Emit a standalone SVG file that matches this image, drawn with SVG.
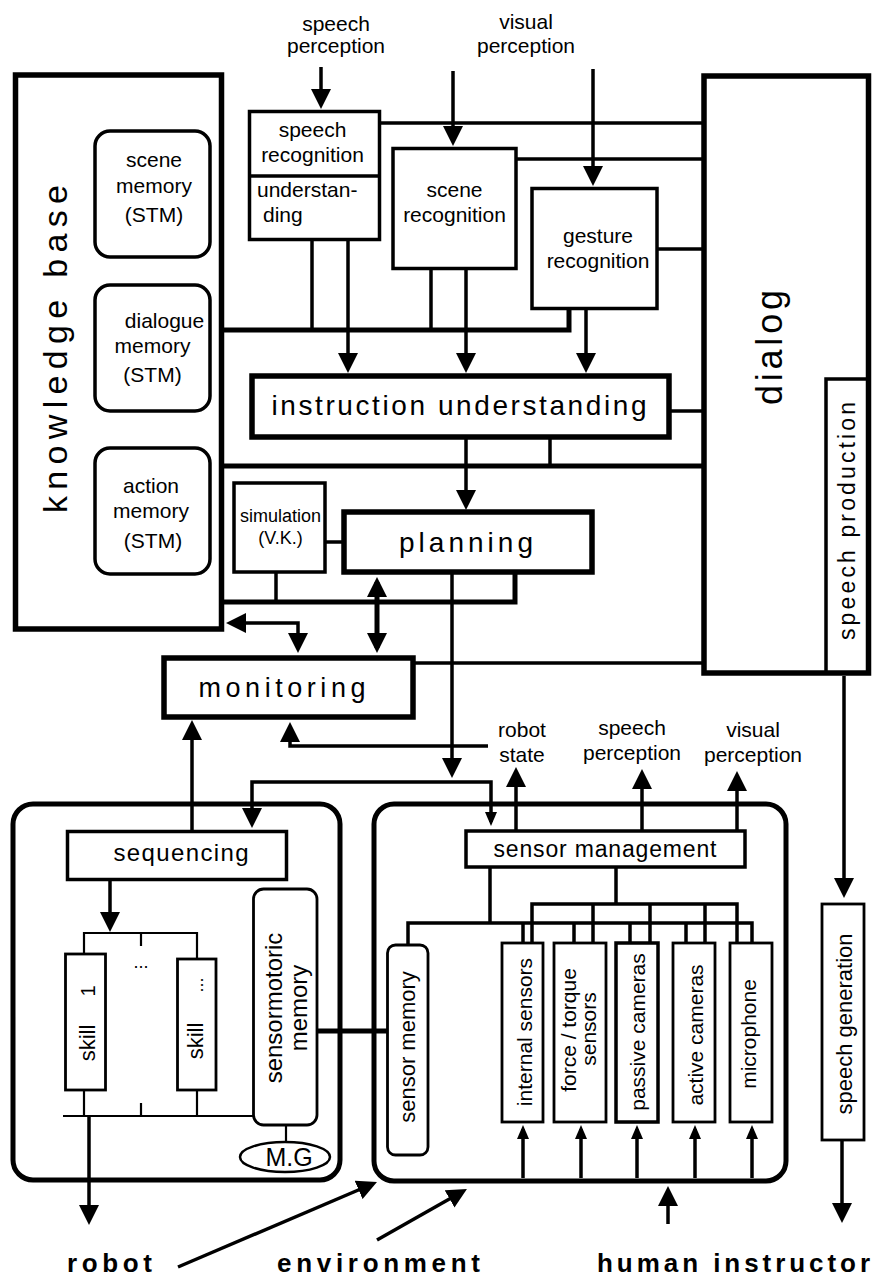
<svg xmlns="http://www.w3.org/2000/svg" width="872" height="1277" viewBox="0 0 872 1277">
<defs>
<style>
text{font-family:"Liberation Sans",Arial,sans-serif;fill:#000;font-size:21px}
.c{text-anchor:middle}
.ln{fill:none;stroke:#000;stroke-width:3.5}
.lt{fill:none;stroke:#000;stroke-width:2.2}
.lk{fill:none;stroke:#000;stroke-width:5}
.box{fill:#fff;stroke:#000;stroke-width:3.5}
.bx2{fill:#fff;stroke:#000;stroke-width:2.8}
.tb{fill:#fff;stroke:#000;stroke-width:5.5}
.cont{fill:none;stroke:#000;stroke-width:5}
.bold{font-weight:bold;font-size:26px}
</style>
<marker id="ah" viewBox="0 0 20 20" refX="15" refY="10" markerWidth="20" markerHeight="20" markerUnits="userSpaceOnUse" orient="auto-start-reverse"><path d="M0,0 L20,10 L0,20 z"/></marker>
<marker id="sh" viewBox="0 0 14 12" refX="10" refY="6" markerWidth="14" markerHeight="12" markerUnits="userSpaceOnUse" orient="auto-start-reverse"><path d="M0,0 L14,6 L0,12 z"/></marker>
</defs>
<rect width="872" height="1277" fill="#fff"/>

<g id="containers">
<rect id="robot-control" class="cont" x="13" y="804" width="327" height="376" rx="20"/>
<rect id="sensor-system" class="cont" x="374" y="804" width="412" height="377" rx="20"/>
</g>

<g id="connectors">
<!-- top inputs -->
<path class="ln" d="M321,67 V104" marker-end="url(#ah)"/>
<path class="ln" d="M453,71 V141" marker-end="url(#ah)"/>
<path class="ln" d="M593,69 V181" marker-end="url(#ah)"/>
<!-- to dialog -->
<path class="ln" d="M380,123 H703"/>
<path class="ln" d="M516,159 H703"/>
<path class="ln" d="M657,249 H703"/>
<path class="ln" d="M669,411 H703"/>
<path class="ln" d="M415,663 H703"/>
<!-- bus 1 -->
<path class="lk" d="M221,330 H569 V309"/>
<path class="ln" d="M312,240 V330"/>
<path class="ln" d="M431,269 V330"/>
<path class="ln" d="M348,240 V368" marker-end="url(#ah)"/>
<path class="ln" d="M466,269 V368" marker-end="url(#ah)"/>
<path class="ln" d="M586,309 V368" marker-end="url(#ah)"/>
<!-- bus 2 -->
<path class="lk" d="M221,466 H703"/>
<path class="ln" d="M550,439 V466"/>
<path class="ln" d="M466,439 V505" marker-end="url(#ah)"/>
<!-- planning area -->
<path class="ln" d="M325,542 H344"/>
<path class="lk" d="M221,602 H515 V572"/>
<path class="ln" d="M276,572 V602"/>
<path class="lk" d="M377,582 V648" marker-start="url(#ah)" marker-end="url(#ah)"/>
<path class="ln" d="M231,623 H298 V648" marker-start="url(#ah)" marker-end="url(#ah)"/>
<path class="ln" d="M452,574 V773" marker-end="url(#ah)"/>
<path class="ln" d="M252,823 V782 H491 V822" marker-start="url(#ah)" marker-end="url(#sh)"/>
<path class="ln" d="M488,746 H290 V727" marker-end="url(#ah)"/>
<path class="ln" d="M192,830 V725" marker-end="url(#ah)"/>
<!-- sensor management outputs -->
<path class="ln" d="M516,830 V772" marker-end="url(#ah)"/>
<path class="ln" d="M642,830 V774" marker-end="url(#ah)"/>
<path class="ln" d="M737,830 V776" marker-end="url(#ah)"/>
<!-- speech output -->
<path class="ln" d="M844,676 V893" marker-end="url(#ah)"/>
<path class="ln" d="M842,1140 V1218" marker-end="url(#ah)"/>
<!-- sensor buses -->
<path class="ln" d="M490,868 V923"/>
<path class="ln" d="M616,868 V904"/>
<path class="ln" d="M532,943 V904 H737 V943"/>
<path class="ln" d="M593,904 V943 M650,904 V943 M705,904 V943"/>
<path class="ln" d="M408,945 V923 H752 V943"/>
<path class="ln" d="M523,923 V943 M574,923 V943 M630,923 V943 M686,923 V943"/>
<!-- sensor inputs -->
<path class="ln" d="M523,1178 V1129" marker-end="url(#sh)"/>
<path class="ln" d="M581,1178 V1129" marker-end="url(#sh)"/>
<path class="ln" d="M637,1178 V1129" marker-end="url(#sh)"/>
<path class="ln" d="M695,1178 V1129" marker-end="url(#sh)"/>
<path class="ln" d="M752,1178 V1129" marker-end="url(#sh)"/>
<path class="ln" d="M668,1224 V1191" marker-end="url(#ah)"/>
<path class="ln" d="M178,1267 L372.4,1184" marker-end="url(#ah)"/>
<path class="ln" d="M377,1240 L462.6,1191.5" marker-end="url(#ah)"/>
<!-- robot control internals -->
<path class="ln" d="M110,881 V927" marker-end="url(#ah)"/>
<path class="lt" d="M84,954 V933 H197 V959 M141,933 V946"/>
<path class="lt" d="M63,1116 H253 M84,1090 V1116 M141,1103 V1116 M197,1090 V1116"/>
<path class="ln" d="M89,1116 V1220" marker-end="url(#ah)"/>
<path class="lt" d="M286,1125 V1142"/>
<path class="lk" d="M317,1031 H387"/>
</g>

<g id="knowledge-base">
<rect class="tb" x="15.5" y="75" width="206" height="554"/>
<text transform="translate(67,349) rotate(-90)" class="c" style="font-size:34px" textLength="328" lengthAdjust="spacing">knowledge base</text>
</g>
<g id="scene-memory">
<rect class="box" x="95" y="131" width="115" height="126" rx="15"/>
<text class="c" x="154" y="167">scene</text>
<text class="c" x="154" y="193">memory</text>
<text class="c" x="154" y="222">(STM)</text>
</g>
<g id="dialogue-memory">
<rect class="box" x="95" y="285" width="115" height="126" rx="15"/>
<text class="c" x="164.5" y="328">dialogue</text>
<text class="c" x="152.5" y="353">memory</text>
<text class="c" x="152.5" y="382">(STM)</text>
</g>
<g id="action-memory">
<rect class="box" x="95" y="448" width="115" height="126" rx="15"/>
<text class="c" x="151" y="493">action</text>
<text class="c" x="151" y="518">memory</text>
<text class="c" x="153" y="548">(STM)</text>
</g>

<g id="speech-perception-in">
<text class="c" x="336" y="31">speech</text>
<text class="c" x="336" y="53">perception</text>
</g>
<g id="visual-perception-in">
<text class="c" x="526" y="29">visual</text>
<text class="c" x="526" y="53">perception</text>
</g>

<g id="speech-recognition">
<rect class="box" x="249.5" y="111.5" width="130" height="128"/>
<path class="ln" d="M249.5,176 H379.5"/>
<text class="c" x="312.5" y="137">speech</text>
<text class="c" x="312.5" y="162">recognition</text>
<text x="257" y="197">understan-</text>
<text x="263" y="222">ding</text>
</g>
<g id="scene-recognition">
<rect class="box" x="393" y="148.5" width="123" height="120"/>
<text class="c" x="454.5" y="197">scene</text>
<text class="c" x="454.5" y="222">recognition</text>
</g>
<g id="gesture-recognition">
<rect class="box" x="532" y="188.5" width="125" height="120"/>
<text class="c" x="598" y="243">gesture</text>
<text class="c" x="598" y="268">recognition</text>
</g>

<g id="dialog">
<rect class="tb" x="704" y="76" width="164.5" height="597"/>
<text transform="translate(782,347.5) rotate(-90)" class="c" style="font-size:36px" textLength="115" lengthAdjust="spacing">dialog</text>
</g>
<g id="speech-production">
<path class="ln" d="M826,672 V379 H868"/>
<text transform="translate(855,521) rotate(-90)" class="c" style="font-size:23px" textLength="238" lengthAdjust="spacing">speech production</text>
</g>

<g id="instruction-understanding">
<rect class="tb" x="252" y="376" width="417" height="61"/>
<text class="c" x="459" y="415" style="font-size:28px" textLength="375" lengthAdjust="spacing">instruction understanding</text>
</g>
<g id="simulation">
<rect class="box" x="234" y="483" width="91" height="89"/>
<text class="c" x="280.5" y="522" style="font-size:18px">simulation</text>
<text class="c" x="280.5" y="544" style="font-size:18px">(V.K.)</text>
</g>
<g id="planning">
<rect class="tb" x="344" y="512" width="248" height="60"/>
<text class="c" x="466" y="552" style="font-size:28px" textLength="134" lengthAdjust="spacing">planning</text>
</g>
<g id="monitoring">
<rect class="tb" x="164" y="658" width="249" height="59"/>
<text class="c" x="282" y="697" style="font-size:27px" textLength="167" lengthAdjust="spacing">monitoring</text>
</g>

<g id="robot-state">
<text class="c" x="522" y="737">robot</text>
<text class="c" x="522" y="762">state</text>
</g>
<g id="speech-perception-out">
<text class="c" x="632" y="735">speech</text>
<text class="c" x="632" y="760">perception</text>
</g>
<g id="visual-perception-out">
<text class="c" x="753" y="737">visual</text>
<text class="c" x="753" y="762">perception</text>
</g>

<g id="sequencing">
<rect class="box" x="67.5" y="831.5" width="219" height="48"/>
<text class="c" x="181" y="861" style="font-size:24px" textLength="135" lengthAdjust="spacing">sequencing</text>
</g>
<g id="skill-1">
<rect class="bx2" x="65.5" y="954" width="40" height="136"/>
<text transform="translate(95,1043) rotate(-90)" class="c" style="font-size:22px">skill</text>
<text transform="translate(95,991) rotate(-90)" class="c" style="font-size:20px">1</text>
</g>
<text class="c" x="141" y="968" style="font-size:18px">...</text>
<g id="skill-n">
<rect class="bx2" x="177.5" y="959" width="38.5" height="131"/>
<text transform="translate(203,1041) rotate(-90)" class="c" style="font-size:22px">skill</text>
<text transform="translate(203,985) rotate(-90)" class="c" style="font-size:18px">...</text>
</g>
<g id="sensormotoric-memory">
<rect class="bx2" x="253.5" y="889" width="63.5" height="236" rx="10"/>
<text transform="translate(282,1008) rotate(-90)" class="c" style="font-size:24px">sensormotoric</text>
<text transform="translate(307,1008) rotate(-90)" class="c" style="font-size:24px">memory</text>
</g>
<g id="mg">
<ellipse cx="285" cy="1157" rx="45" ry="15" fill="#fff" stroke="#000" stroke-width="2.5"/>
<text class="c" x="289" y="1166" style="font-size:25px">M.G</text>
</g>

<g id="sensor-management">
<rect class="box" x="466" y="831" width="279" height="36"/>
<text class="c" x="605" y="857" style="font-size:23px" textLength="223" lengthAdjust="spacing">sensor  management</text>
</g>
<g id="sensor-memory">
<rect class="bx2" x="387.5" y="945" width="40.5" height="210" rx="8"/>
<text transform="translate(415,1047) rotate(-90)" class="c" style="font-size:22px">sensor memory</text>
</g>
<g id="internal-sensors">
<rect class="bx2" x="502" y="943" width="41" height="179"/>
<text transform="translate(532,1032) rotate(-90)" class="c">internal sensors</text>
</g>
<g id="force-torque-sensors">
<rect class="bx2" x="554" y="943" width="52" height="179"/>
<text transform="translate(576,1030) rotate(-90)" class="c">force / torque</text>
<text transform="translate(596,1029) rotate(-90)" class="c">sensors</text>
</g>
<g id="passive-cameras">
<rect class="box" x="616" y="943" width="42" height="179"/>
<text transform="translate(645,1032) rotate(-90)" class="c">passive cameras</text>
</g>
<g id="active-cameras">
<rect class="bx2" x="673" y="943" width="42" height="179"/>
<text transform="translate(703,1035) rotate(-90)" class="c">active cameras</text>
</g>
<g id="microphone">
<rect class="bx2" x="730" y="943" width="42" height="179"/>
<text transform="translate(756,1034) rotate(-90)" class="c">microphone</text>
</g>
<g id="speech-generation">
<rect class="bx2" x="822" y="904" width="42" height="236"/>
<text transform="translate(852,1024) rotate(-90)" class="c" style="font-size:22px">speech generation</text>
</g>

<g id="robot"><text class="c bold" x="109.5" y="1272" textLength="85" lengthAdjust="spacing">robot</text></g>
<g id="environment"><text class="c bold" x="378.5" y="1272" textLength="203" lengthAdjust="spacing">environment</text></g>
<g id="human-instructor"><text class="c bold" x="733.5" y="1272" textLength="273" lengthAdjust="spacing">human instructor</text></g>
</svg>
